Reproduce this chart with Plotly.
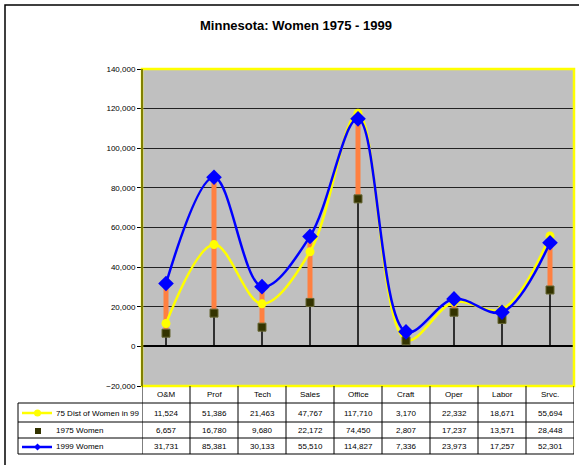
import plotly.graph_objects as go

categories = ["O&M", "Prof", "Tech", "Sales", "Office", "Craft", "Oper", "Labor", "Srvc."]
dist75_in99 = [11524, 51386, 21463, 47767, 117710, 3170, 22332, 18671, 55694]
women1975 = [6657, 16780, 9680, 22172, 74450, 2807, 17237, 13571, 28448]
women1999 = [31731, 85381, 30133, 55510, 114827, 7336, 23973, 17257, 52301]
series_names = ["75 Dist of Women in 99", "1975 Women", "1999 Women"]
y_ticks = [-20000, 0, 20000, 40000, 60000, 80000, 100000, 120000, 140000]

W, H = 579, 465
L, R, T, B = 142, 5, 69, 79
PW, PH = W - L - R, H - T - B
FONT = "Liberation Sans, Arial, sans-serif"


def px(x):
    return (x - L) / PW


def py(y):
    return (H - B - y) / PH


fig = go.Figure()

# drop lines from 0 to 1975 values
dx, dy = [], []
for c, v in zip(categories, women1975):
    dx += [c, c, None]
    dy += [0, v, None]
fig.add_trace(go.Scatter(x=dx, y=dy, mode="lines", line=dict(color="black", width=1.5),
                         hoverinfo="skip", showlegend=False))

# orange bars from 1975 to 1999
ox, oy = [], []
for c, a, b in zip(categories, women1975, women1999):
    ox += [c, c, None]
    oy += [a, b, None]
fig.add_trace(go.Scatter(x=ox, y=oy, mode="lines", line=dict(color="#FF8040", width=5),
                         hoverinfo="skip", showlegend=False))

fig.add_trace(go.Scatter(x=categories, y=dist75_in99, name=series_names[0], mode="lines+markers",
                         line=dict(color="#FFFF00", width=2.5, shape="spline", smoothing=1),
                         marker=dict(symbol="circle", size=9, color="#FFFF00"), showlegend=False))
fig.add_trace(go.Scatter(x=categories, y=women1975, name=series_names[1], mode="markers",
                         marker=dict(symbol="square", size=8, color="#333300",
                                     line=dict(color="#666633", width=1)), showlegend=False))
fig.add_trace(go.Scatter(x=categories, y=women1999, name=series_names[2], mode="lines+markers",
                         line=dict(color="#0000FF", width=2.5, shape="spline", smoothing=1),
                         marker=dict(symbol="diamond", size=12, color="#0000FF"), showlegend=False))

shapes = []
# outer frame
shapes.append(dict(type="rect", xref="paper", yref="paper", x0=px(5), x1=px(600), y0=py(5), y1=py(490),
                   line=dict(color="black", width=1.5), layer="below"))
# plot area yellow border
shapes.append(dict(type="rect", xref="paper", yref="paper", x0=0, x1=1, y0=0, y1=1,
                   line=dict(color="#FFFF00", width=2.5), layer="above"))
# left axis line olive
shapes.append(dict(type="line", xref="paper", yref="paper", x0=0, x1=0, y0=0, y1=1,
                   line=dict(color="#808000", width=2), layer="above"))

# table lines
tcol = "black"
for yy in [403, 422, 438]:
    shapes.append(dict(type="line", xref="paper", yref="paper", x0=px(18), x1=1, y0=py(yy), y1=py(yy),
                       line=dict(color=tcol, width=1)))
shapes.append(dict(type="line", xref="paper", yref="paper", x0=px(18), x1=1, y0=py(454), y1=py(454),
                   line=dict(color="#555555", width=1.5)))
shapes.append(dict(type="line", xref="paper", yref="paper", x0=px(18), x1=px(18), y0=py(403), y1=py(454),
                   line=dict(color=tcol, width=1)))
for k in range(len(categories) + 1):
    shapes.append(dict(type="line", xref="x", yref="paper", x0=k - 0.5, x1=k - 0.5, y0=0, y1=py(454),
                       line=dict(color=tcol, width=1)))

# legend keys
shapes.append(dict(type="line", xref="paper", yref="paper", x0=px(22), x1=px(52), y0=py(413), y1=py(413),
                   line=dict(color="#FFFF00", width=2.5)))
shapes.append(dict(type="circle", xref="paper", yref="paper", x0=px(34), x1=px(41), y0=py(409.5), y1=py(416.5),
                   fillcolor="#FFFF00", line=dict(color="#FFFF00", width=0)))
shapes.append(dict(type="rect", xref="paper", yref="paper", x0=px(35), x1=px(41), y0=py(428), y1=py(434),
                   fillcolor="#333300", line=dict(color="#333300", width=0)))
shapes.append(dict(type="line", xref="paper", yref="paper", x0=px(22), x1=px(52), y0=py(447), y1=py(447),
                   line=dict(color="#0000FF", width=2.5)))
shapes.append(dict(type="path", xref="paper", yref="paper",
                   path=f"M {px(37.5)} {py(443.5)} L {px(41)} {py(447)} L {px(37.5)} {py(450.5)} L {px(34)} {py(447)} Z",
                   fillcolor="#0000FF", line=dict(color="#0000FF", width=0)))

annotations = []
annotations.append(dict(text="<b>Minnesota: Women 1975 - 1999</b>", xref="paper", yref="paper",
                        x=px(296), y=py(26), xanchor="center", yanchor="middle", showarrow=False,
                        font=dict(size=13, color="black", family=FONT)))
for c in categories:
    annotations.append(dict(text=c, xref="x", yref="paper", x=c, y=py(394.5), xanchor="center",
                            yanchor="middle", showarrow=False, font=dict(size=8, color="black", family=FONT)))
rows = [(dist75_in99, 413), (women1975, 430.5), (women1999, 446.5)]
for vals, yy in rows:
    for c, v in zip(categories, vals):
        annotations.append(dict(text=f"{v:,}", xref="x", yref="paper", x=c, y=py(yy), xanchor="center",
                                yanchor="middle", showarrow=False, font=dict(size=8, color="black", family=FONT)))
legend_text_y = [413, 430.5, 446.5]
for name, yy in zip(series_names, legend_text_y):
    annotations.append(dict(text=name, xref="paper", yref="paper", x=px(54), y=py(yy), xanchor="left",
                            yanchor="middle", showarrow=False, font=dict(size=8, color="black", family=FONT)))

fig.update_layout(
    width=W, height=H,
    margin=dict(l=L, r=R, t=T, b=B),
    paper_bgcolor="white",
    plot_bgcolor="#C0C0C0",
    font=dict(family=FONT, size=8, color="black"),
    showlegend=False,
    shapes=shapes,
    annotations=annotations,
    xaxis=dict(type="category", categoryorder="array", categoryarray=categories,
               range=[-0.5, len(categories) - 0.5], showticklabels=False, showgrid=False,
               zeroline=False, showline=False, ticks=""),
    yaxis=dict(range=[-20000, 140000], tickvals=y_ticks, tickformat=",", ticks="outside",
               ticklen=4, tickcolor="black", showgrid=True, gridcolor="#222222", gridwidth=1,
               zeroline=True, zerolinecolor="black", zerolinewidth=1.5, showline=False,
               tickfont=dict(size=8, color="black", family=FONT)),
)

fig.write_html("out.html", config={"displayModeBar": False},
               post_script="document.body.style.margin='0';document.body.style.overflow='hidden';")
